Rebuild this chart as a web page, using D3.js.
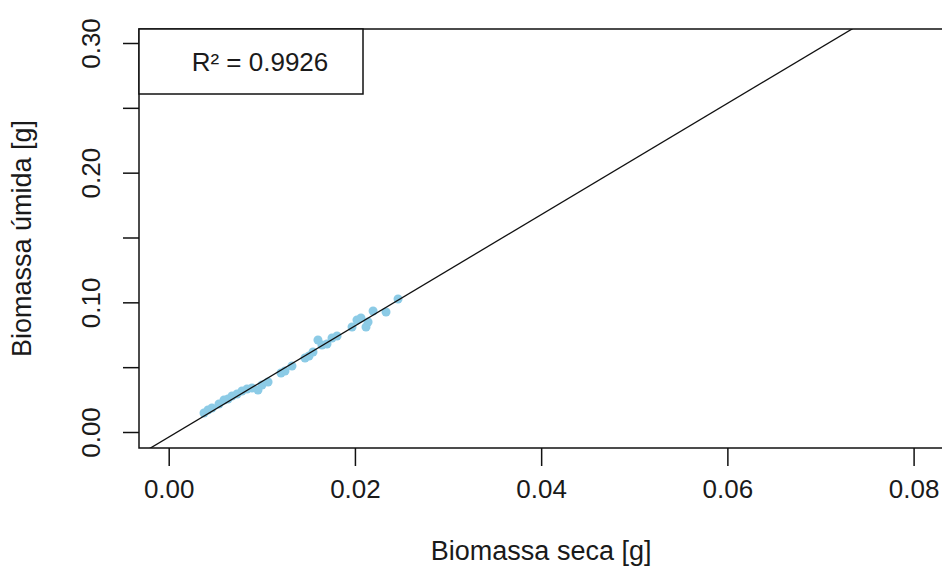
<!DOCTYPE html>
<html>
<head>
<meta charset="utf-8">
<script src="https://cdn.jsdelivr.net/npm/d3@7"></script>
<style>
  html, body { margin: 0; padding: 0; background: #fff; }
  svg { display: block; }
  text { font-family: "Liberation Sans", Arial, sans-serif; fill: #1a1a1a; }
</style>
</head>
<body>
<svg id="chart" width="942" height="577"></svg>
<script>
// ---- data ----
const drySeca = [0.00379, 0.00422, 0.00465, 0.00540, 0.00594, 0.00637, 0.00680, 0.00734,
  0.00787, 0.00841, 0.00895, 0.00959, 0.01002, 0.01067, 0.01206, 0.01249, 0.01324,
  0.01464, 0.01507, 0.01550, 0.01603, 0.01646, 0.01700, 0.01754, 0.01808, 0.01969,
  0.02022, 0.02065, 0.02119, 0.02141, 0.02195, 0.02334, 0.02463];
const wetUmida = [0.01465, 0.01697, 0.01851, 0.02159, 0.02468, 0.02545, 0.02776, 0.02931,
  0.03162, 0.03316, 0.03393, 0.03239, 0.03625, 0.03856, 0.04550, 0.04704, 0.05090,
  0.05707, 0.05861, 0.06170, 0.07095, 0.06709, 0.06786, 0.07249, 0.07403, 0.08097,
  0.08637, 0.08792, 0.08097, 0.08483, 0.09331, 0.09254, 0.10257];
const fitCoef = [-0.00396, 4.289];          // intercept, slope
const xTicks = [0, 0.02, 0.04, 0.06, 0.08];
const yTicks = [0, 0.05, 0.10, 0.15, 0.20, 0.25, 0.30];
const yTickLabels = ["0.00", "", "0.10", "", "0.20", "", "0.30"];
const xTitle = "Biomassa seca [g]";
const yTitle = "Biomassa úmida [g]";
const legendText = "R² = 0.9926";

// ---- layout ----
const svg = d3.select("#chart");
const x = d3.scaleLinear().domain([0, 0.08]).range([168.7, 913.6]);
const y = d3.scaleLinear().domain([0, 0.30]).range([432, 43]);
const xd = [x.invert(139), x.invert(943.3)];
const yd = [y.invert(448), y.invert(29)];
const L = x(xd[0]), R = x(xd[1]), B = y(yd[0]), T = y(yd[1]);

svg.append("clipPath").attr("id", "plotclip")
  .append("rect").attr("x", L).attr("y", T).attr("width", R - L).attr("height", B - T);

// points
const pts = drySeca.map((d, i) => ({ x: d, y: wetUmida[i] }));
svg.append("g").selectAll("circle").data(pts).join("circle")
  .attr("cx", d => x(d.x)).attr("cy", d => y(d.y)).attr("r", 4.5)
  .attr("fill", "#8ccbe6");

// regression line (abline)
svg.append("line")
  .attr("clip-path", "url(#plotclip)")
  .attr("x1", x(xd[0])).attr("y1", y(fitCoef[0] + fitCoef[1] * xd[0]))
  .attr("x2", x(xd[1])).attr("y2", y(fitCoef[0] + fitCoef[1] * xd[1]))
  .attr("stroke", "#111").attr("stroke-width", 1.3);

// box
svg.append("rect").attr("x", L).attr("y", T).attr("width", R - L).attr("height", B - T)
  .attr("fill", "none").attr("stroke", "#111").attr("stroke-width", 1.5);

// x axis
const xAxis = svg.append("g").attr("transform", `translate(0,${B})`)
  .call(d3.axisBottom(x).tickValues(xTicks).tickSize(18).tickPadding(14)
    .tickFormat(d3.format(".2f")));
xAxis.select(".domain").remove();
xAxis.selectAll("line").attr("stroke", "#111").attr("stroke-width", 1.5);
xAxis.selectAll("text").attr("font-size", 26).attr("fill", "#1a1a1a")
  .attr("font-family", "Liberation Sans, Arial, sans-serif");

// y axis
const yAxis = svg.append("g").attr("transform", `translate(${L},0)`)
  .call(d3.axisLeft(y).tickValues(yTicks).tickSize(16)
    .tickFormat((d, i) => yTickLabels[i]));
yAxis.select(".domain").remove();
yAxis.selectAll("line").attr("stroke", "#111").attr("stroke-width", 1.5);
yAxis.selectAll("text")
  .attr("font-size", 26).attr("fill", "#1a1a1a")
  .attr("font-family", "Liberation Sans, Arial, sans-serif")
  .attr("text-anchor", "middle").attr("dy", 0)
  .attr("x", 0).attr("y", 0)
  .attr("transform", `translate(${91 - L},0) rotate(-90) translate(0,9)`);

// titles
svg.append("text").attr("x", (x(0) + x(0.08)) / 2 + 0).attr("y", 551)
  .attr("text-anchor", "middle").attr("dominant-baseline", "central")
  .attr("font-size", 27).text(xTitle);
svg.append("text")
  .attr("transform", `translate(22,${(T + B) / 2}) rotate(-90)`)
  .attr("text-anchor", "middle").attr("dominant-baseline", "central")
  .attr("font-size", 27).text(yTitle);

// legend
svg.append("rect").attr("x", L).attr("y", T).attr("width", 363 - L).attr("height", 94 - T)
  .attr("fill", "#fff").attr("stroke", "#111").attr("stroke-width", 1.5);
svg.append("text").attr("x", 260).attr("y", 62)
  .attr("text-anchor", "middle").attr("dominant-baseline", "central")
  .attr("font-size", 26).text(legendText);
</script>
</body>
</html>
